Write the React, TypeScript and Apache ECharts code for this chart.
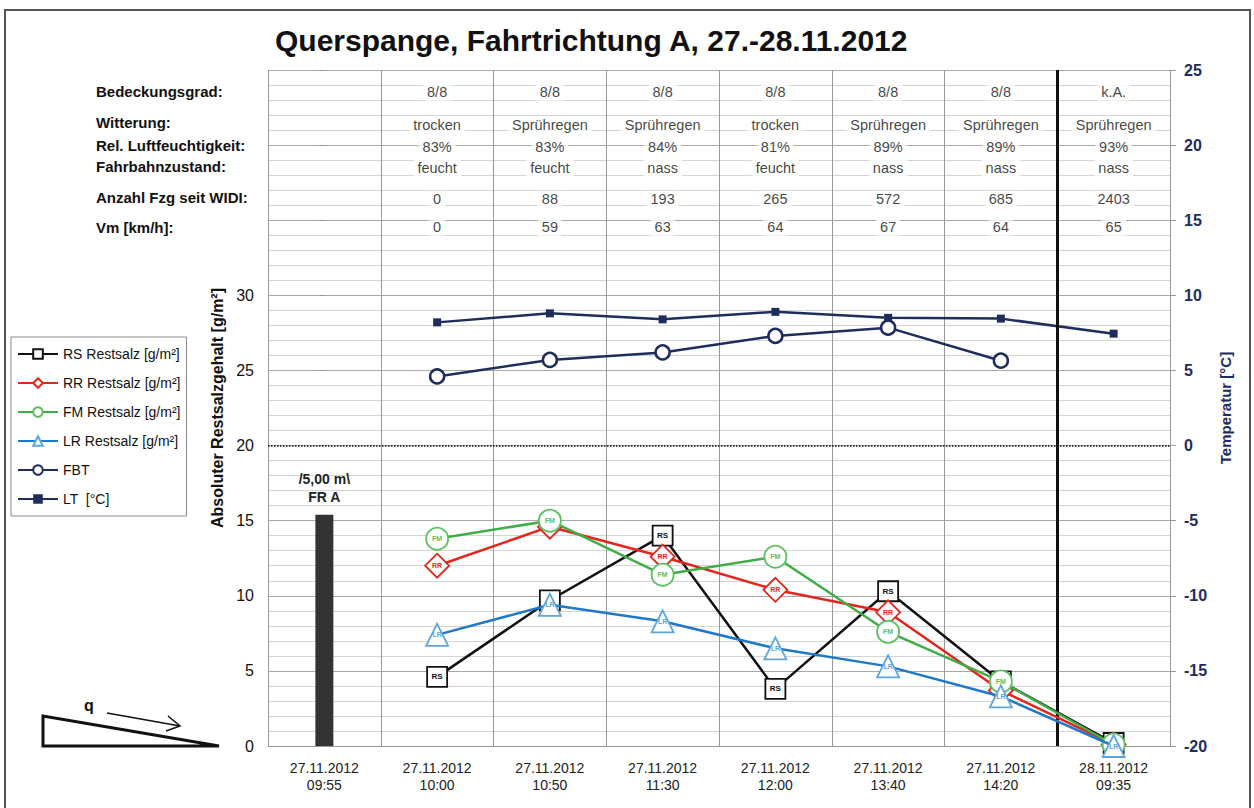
import React, { useEffect, useRef } from "react";
import * as echarts from "echarts";

const categories = [
  "27.11.2012\n09:55",
  "27.11.2012\n10:00",
  "27.11.2012\n10:50",
  "27.11.2012\n11:30",
  "27.11.2012\n12:00",
  "27.11.2012\n13:40",
  "27.11.2012\n14:20",
  "28.11.2012\n09:35",
];

const barValues = [15.4, null, null, null, null, null, null, null];
const rsValues = [null, 4.6, 9.7, 14.0, 3.8, 10.3, 4.3, 0.2];
const rrValues = [null, 12.0, 14.6, 12.6, 10.4, 8.9, 3.7, 0.1];
const fmValues = [null, 13.8, 15.0, 11.4, 12.6, 7.6, 4.3, 0.1];
const lrValues = [null, 7.4, 9.4, 8.3, 6.5, 5.3, 3.3, 0.0];
const fbtValues = [null, 4.6, 5.7, 6.2, 7.3, 7.85, 5.65, null];
const ltValues = [null, 8.2, 8.8, 8.4, 8.9, 8.5, 8.45, 7.45];

const bedeckung = ["", "8/8", "8/8", "8/8", "8/8", "8/8", "8/8", "k.A."];
const witterung = ["", "trocken", "Sprühregen", "Sprühregen", "trocken", "Sprühregen", "Sprühregen", "Sprühregen"];
const feuchte = ["", "83%", "83%", "84%", "81%", "89%", "89%", "93%"];
const zustand = ["", "feucht", "feucht", "nass", "feucht", "nass", "nass", "nass"];
const fzg = ["", "0", "88", "193", "265", "572", "685", "2403"];
const vm = ["", "0", "59", "63", "64", "67", "64", "65"];
const rowLabels = [
  "Bedeckungsgrad:",
  "Witterung:",
  "Rel. Luftfeuchtigkeit:",
  "Fahrbahnzustand:",
  "Anzahl Fzg seit WIDI:",
  "Vm [km/h]:",
];

const leftTicks = { min: 0, max: 45, interval: 5, labelMax: 30 };
const rightTicks = { min: -20, max: 25, interval: 5 };

const FONT = "Liberation Sans, Arial, sans-serif";
const NAVY = "#1f2d5c";

// layout: vertical positions of table rows, in left-axis units
const tableRowY = [43.52, 41.34, 39.86, 38.46, 36.39, 34.53];
const rowLabelPx = [93, 124, 147, 168, 199, 229];

// points where a marker's inner text is covered by another marker (as in the reference)
const hiddenLabels: Record<string, number[]> = {
  RS: [2, 6, 7],
  RR: [2, 6, 7],
  FM: [7],
  LR: [],
};

function markerSeries(
  name: string,
  key: string,
  data: (number | null)[],
  lineColor: string,
  border: string,
  symbol: string,
  size: number,
  fontSize: number,
  z: number
) {
  return {
    name,
    type: "line",
    data: data.map((v, i) =>
      hiddenLabels[key].includes(i) ? { value: v, label: { show: false } } : v
    ),
    symbol,
    symbolSize: size,
    showAllSymbol: true,
    connectNulls: false,
    lineStyle: { color: lineColor, width: 2.5 },
    itemStyle: { color: "#fff", borderColor: border, borderWidth: 1.8 },
    label: {
      show: true,
      position: "inside",
      formatter: key,
      fontSize,
      fontWeight: "bold",
      fontFamily: FONT,
      color: border,
    },
    z,
  };
}

export default function App() {
  const ref = useRef<HTMLDivElement>(null);

  useEffect(() => {
    document.body.style.margin = "0";
    const chart = echarts.init(ref.current!, null, { renderer: "svg" });

    const tableRows = [bedeckung, witterung, feuchte, zustand, fzg, vm];
    const tableSeries = tableRows.map((row, r) => ({
      type: "scatter",
      silent: true,
      symbol: "circle",
      symbolSize: 1,
      itemStyle: { color: "rgba(0,0,0,0)" },
      data: row
        .map((t, i) => ({ value: [i, tableRowY[r]], txt: t }))
        .filter((d) => d.txt !== ""),
      label: {
        show: true,
        position: "inside",
        formatter: (p: any) => p.data.txt,
        fontSize: 14.5,
        fontFamily: FONT,
        color: "#111",
        backgroundColor: "#fff",
        padding: [1, 4],
      },
      z: 3,
    }));

    const option: any = {
      animation: false,
      backgroundColor: "#fff",
      title: {
        text: "Querspange, Fahrtrichtung A, 27.-28.11.2012",
        left: 270,
        top: 20,
        textStyle: { fontSize: 30, fontWeight: "bold", fontFamily: FONT, color: "#111" },
      },
      grid: { left: 268, right: 84, top: 70, bottom: 62, containLabel: false },
      legend: {
        orient: "vertical",
        left: 11,
        top: 337,
        data: [
          "RS Restsalz [g/m²]",
          "RR Restsalz [g/m²]",
          "FM Restsalz [g/m²]",
          "LR Restsalz [g/m²]",
          "FBT",
          "LT  [°C]",
        ],
        itemWidth: 40,
        itemHeight: 12,
        itemGap: 15,
        padding: [10, 6, 10, 6],
        borderColor: "#888",
        borderWidth: 1,
        textStyle: { fontSize: 14, fontFamily: FONT, color: "#111" },
      },
      xAxis: [
        {
          type: "category",
          data: categories,
          boundaryGap: true,
          axisLine: { show: true, lineStyle: { color: "#999" } },
          axisTick: { show: false },
          splitLine: { show: true, interval: 0, lineStyle: { color: "#999", width: 1 } },
          axisLabel: {
            interval: 0,
            margin: 13,
            fontSize: 14,
            lineHeight: 17,
            fontFamily: FONT,
            color: "#222",
          },
        },
        { type: "value", min: -0.5, max: 7.5, show: false },
      ],
      yAxis: [
        {
          type: "value",
          min: leftTicks.min,
          max: leftTicks.max,
          interval: leftTicks.interval,
          name: "Absoluter Restsalzgehalt [g/m²]",
          nameLocation: "middle",
          nameGap: 36,
          nameTextStyle: { fontSize: 16, fontWeight: "bold", fontFamily: FONT, color: "#111" },
          axisLine: { show: false },
          axisTick: { show: true, length: 5, lineStyle: { color: "#999" } },
          axisLabel: {
            fontSize: 16,
            fontFamily: FONT,
            color: "#111",
            margin: 14,
            formatter: (v: number) => (v <= leftTicks.labelMax ? String(v) : ""),
          },
          splitLine: { show: true, lineStyle: { color: "#a8a8a8", width: 1 } },
          minorSplitLine: { show: true, lineStyle: { color: "#d4d4d4", width: 1 } },
          minorTick: { show: false, splitNumber: 5 },
        },
        {
          type: "value",
          min: rightTicks.min,
          max: rightTicks.max,
          interval: rightTicks.interval,
          position: "right",
          name: "Temperatur [°C]",
          nameLocation: "middle",
          nameGap: 44,
          nameRotate: 90,
          nameTextStyle: { fontSize: 15, fontWeight: "bold", fontFamily: FONT, color: NAVY },
          axisLine: { show: false },
          axisTick: { show: true, length: 6, lineStyle: { color: "#999" } },
          axisLabel: { fontSize: 16, fontFamily: FONT, color: NAVY, fontWeight: "bold", margin: 14 },
          splitLine: { show: false },
        },
      ],
      graphic: [
        {
          type: "rect",
          shape: { x: 5, y: 10, width: 1245, height: 810 },
          style: { fill: "none", stroke: "#555", lineWidth: 2 },
          silent: true,
        },
        ...rowLabels.map((t, i) => ({
          type: "text",
          left: 96,
          top: rowLabelPx[i] - 9,
          style: { text: t, fontSize: 15, fontWeight: "bold", fontFamily: FONT, fill: "#111" },
        })),
        {
          type: "polygon",
          shape: { points: [[43, 716], [43, 746], [219, 746]] },
          style: { fill: "none", stroke: "#111", lineWidth: 3, lineJoin: "miter" },
        },
        {
          type: "text",
          left: 84,
          top: 697,
          style: { text: "q", fontSize: 16, fontWeight: "bold", fontFamily: FONT, fill: "#111" },
        },
        {
          type: "line",
          shape: { x1: 107, y1: 713, x2: 180, y2: 726 },
          style: { stroke: "#111", lineWidth: 1.5 },
        },
        {
          type: "polyline",
          shape: { points: [[168, 716], [180, 726], [166, 731]] },
          style: { stroke: "#111", lineWidth: 1.5, fill: "none" },
        },
      ],
      series: [
        {
          name: "bar",
          type: "bar",
          data: barValues,
          barWidth: 18,
          itemStyle: { color: "#333" },
          label: {
            show: true,
            position: "top",
            distance: 9,
            formatter: "/5,00 m\\\nFR A",
            fontSize: 14,
            lineHeight: 18,
            fontWeight: "bold",
            fontFamily: FONT,
            color: "#222",
          },
          z: 2,
        },
        {
          name: "sep",
          type: "line",
          xAxisIndex: 1,
          yAxisIndex: 0,
          data: [],
          markLine: {
            silent: true,
            symbol: "none",
            label: { show: false },
            lineStyle: { color: "#111", width: 3, type: "solid" },
            data: [{ xAxis: 6.5 }],
          },
        },
        {
          name: "zero",
          type: "line",
          data: [],
          markLine: {
            silent: true,
            symbol: "none",
            label: { show: false },
            lineStyle: { color: "#111", width: 1.5, type: "dotted" },
            data: [{ yAxis: 20 }],
          },
        },
        ...tableSeries,
        {
          name: "FBT",
          type: "line",
          yAxisIndex: 1,
          data: fbtValues,
          symbol: "circle",
          symbolSize: 14,
          lineStyle: { color: NAVY, width: 2.5 },
          itemStyle: { color: "#fff", borderColor: NAVY, borderWidth: 2.5 },
          z: 4,
        },
        {
          name: "LT  [°C]",
          type: "line",
          yAxisIndex: 1,
          data: ltValues,
          symbol: "rect",
          symbolSize: 8,
          lineStyle: { color: NAVY, width: 2.5 },
          itemStyle: { color: NAVY },
          z: 4,
        },
        markerSeries("RS Restsalz [g/m²]", "RS", rsValues, "#111", "#111", "rect", 20, 8, 5),
        markerSeries("RR Restsalz [g/m²]", "RR", rrValues, "#e3261c", "#e3261c", "diamond", 24, 7, 6),
        markerSeries("FM Restsalz [g/m²]", "FM", fmValues, "#40ad48", "#5cbf60", "circle", 22, 7, 7),
        markerSeries("LR Restsalz [g/m²]", "LR", lrValues, "#1f78c8", "#5ea6dc", "triangle", 22, 7, 8),
      ],
    };

    chart.setOption(option);
    return () => chart.dispose();
  }, []);

  return <div ref={ref} style={{ width: 1254, height: 808 }} />;
}
